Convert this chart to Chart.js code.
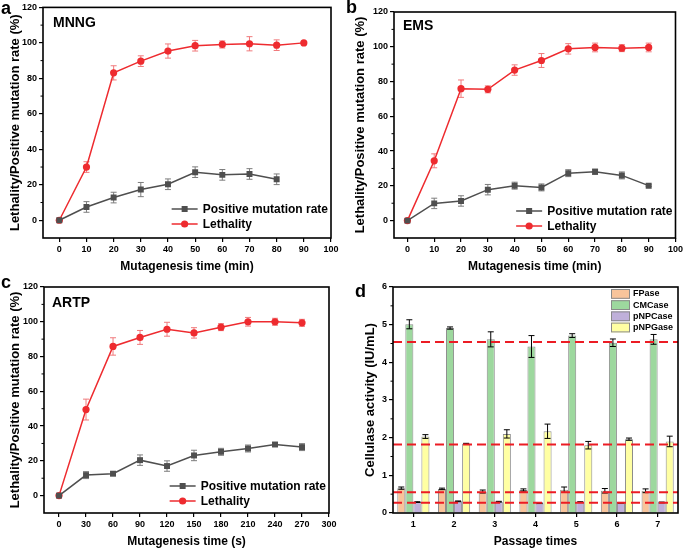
<!DOCTYPE html>
<html><head><meta charset="utf-8">
<script src="https://cdn.jsdelivr.net/npm/chart.js@4.4.1/dist/chart.umd.min.js"></script>
<style>
body{margin:0;background:#fff;width:685px;height:552px;overflow:hidden;position:relative}
canvas{position:absolute}
</style>
</head><body>
<canvas id="ca" width="345" height="275" style="left:0;top:0"></canvas>
<canvas id="cb" width="340" height="275" style="left:345px;top:0"></canvas>
<canvas id="cc" width="345" height="277" style="left:0;top:275px"></canvas>
<canvas id="cd" width="340" height="277" style="left:345px;top:275px"></canvas>
<script>
// ---------------- DATA ----------------
const timeMin = [0, 10, 20, 30, 40, 50, 60, 70, 80, 90];
const timeSec = [0, 30, 60, 90, 120, 150, 180, 210, 240, 270];
const xTicksMin = [0, 10, 20, 30, 40, 50, 60, 70, 80, 90, 100];
const xTicksSec = [0, 30, 60, 90, 120, 150, 180, 210, 240, 270, 300];
const yTicksRate = [0, 20, 40, 60, 80, 100, 120];

const mnngPositive = [0, 7.5, 12.8, 17.3, 20.3, 27.1, 25.6, 26.1, 23.1];
const mnngPositiveErr = [0, 3, 3, 4, 3, 3, 3, 3, 3];
const mnngLethality = [0, 30, 83.1, 89.7, 95.4, 98.4, 99.1, 99.5, 98.7, 100];
const mnngLethalityErr = [0, 3, 4, 3, 4, 3, 2, 4, 3, 0.5];

const emsPositive = [0, 9.9, 11.3, 17.8, 20.1, 19.1, 27.3, 28.1, 26.0, 20.1];
const emsPositiveErr = [0, 3, 3, 3, 2, 2, 2, 1.5, 2, 0.5];
const emsLethality = [0, 34.4, 75.9, 75.5, 86.6, 92.1, 98.8, 99.6, 99.2, 99.6];
const emsLethalityErr = [0, 4, 5, 2, 3, 4, 3, 2.5, 2, 2.5];

const artpPositive = [0, 11.8, 12.6, 20.4, 17.0, 23.1, 25.2, 27.1, 29.4, 27.9];
const artpPositiveErr = [0, 2, 1, 3, 3, 3, 2, 2, 1, 2];
const artpLethality = [0, 49.5, 85.8, 91.0, 95.7, 93.6, 96.9, 100, 100, 99.4];
const artpLethalityErr = [0, 6, 5, 4, 4, 3, 2, 2.5, 2, 2];

const passages = ['1', '2', '3', '4', '5', '6', '7'];
const fpase = [0.66, 0.64, 0.57, 0.61, 0.62, 0.59, 0.59];
const fpaseErr = [0.03, 0.02, 0.04, 0.03, 0.07, 0.06, 0.05];
const cmcase = [5.01, 4.91, 4.61, 4.42, 4.71, 4.52, 4.61];
const cmcaseErr = [0.12, 0.03, 0.2, 0.29, 0.05, 0.1, 0.13];
const pnpcase = [0.29, 0.31, 0.30, 0.26, 0.29, 0.27, 0.28];
const pnpcaseErr = [0.01, 0.01, 0.01, 0.01, 0.01, 0.01, 0.01];
const pnpgase = [2.03, 1.84, 2.10, 2.17, 1.80, 1.96, 1.90];
const pnpgaseErr = [0.05, 0.01, 0.11, 0.19, 0.1, 0.03, 0.14];
const referenceLevels = [4.54, 1.82, 0.55, 0.27];

// ---------------- STYLE ----------------
const FONT = '"Liberation Sans", Arial, Helvetica, sans-serif';
Chart.defaults.font.family = FONT;
Chart.defaults.color = '#000';
const RED = '#EE2B2F';
const GRAY = '#4F4F4F';

function drawErrors(chart, cap) {
  const ctx = chart.ctx;
  chart.data.datasets.forEach((ds, i) => {
    if (!ds.errors) return;
    const meta = chart.getDatasetMeta(i);
    const ys = chart.scales[meta.yAxisID];
    ctx.save();
    ctx.strokeStyle = ds.errorColor || '#000';
    ctx.lineWidth = 1;
    meta.data.forEach((el, j) => {
      const d = ds.data[j];
      const v = (typeof d === 'object') ? d.y : d;
      const e = ds.errors[j];
      if (!e) return;
      const x = el.x;
      const y1 = ys.getPixelForValue(v + e), y2 = ys.getPixelForValue(v - e);
      ctx.beginPath();
      ctx.moveTo(x, y1); ctx.lineTo(x, y2);
      ctx.moveTo(x - cap, y1); ctx.lineTo(x + cap, y1);
      ctx.moveTo(x - cap, y2); ctx.lineTo(x + cap, y2);
      ctx.stroke();
    });
    ctx.restore();
  });
}

const deco = {
  id: 'deco',
  beforeDatasetsDraw(chart, args, o) {
    if (o.errorsBehind) drawErrors(chart, o.cap || 3);
  },
  afterDatasetsDraw(chart, args, o) {
    if (!o.errorsBehind) drawErrors(chart, o.cap || 3);
    const ctx = chart.ctx, a = chart.chartArea;
    if (o.refLines) {
      const ys = chart.scales.y;
      ctx.save();
      ctx.strokeStyle = '#EC1C24';
      ctx.lineWidth = 2;
      ctx.setLineDash([9, 5]);
      o.refLines.forEach(v => {
        const y = ys.getPixelForValue(v);
        ctx.beginPath(); ctx.moveTo(a.left, y); ctx.lineTo(a.right, y); ctx.stroke();
      });
      ctx.restore();
    }
  },
  afterDraw(chart, args, o) {
    const ctx = chart.ctx, a = chart.chartArea;
    ctx.save();
    // frame
    ctx.strokeStyle = '#000';
    ctx.lineWidth = 1.6;
    ctx.strokeRect(a.left, a.top, a.right - a.left, a.bottom - a.top);
    // minor ticks on y
    if (o.minorY) {
      const ys = chart.scales.y;
      ctx.lineWidth = 1;
      o.minorY.forEach(v => {
        const y = ys.getPixelForValue(v);
        ctx.beginPath(); ctx.moveTo(a.left - 2.5, y); ctx.lineTo(a.left, y); ctx.stroke();
      });
    }
    // panel letter
    if (o.letter) {
      ctx.fillStyle = '#000';
      ctx.font = 'bold 18px ' + FONT;
      ctx.textBaseline = 'alphabetic';
      ctx.textAlign = 'left';
      ctx.fillText(o.letter.text, o.letter.x, o.letter.y);
    }
    // tag inside plot
    if (o.tag) {
      ctx.fillStyle = '#000';
      ctx.font = 'bold 14px ' + FONT;
      ctx.textBaseline = 'alphabetic';
      ctx.textAlign = 'left';
      ctx.fillText(o.tag.text, a.left + o.tag.dx, a.top + o.tag.dy);
    }
    // line legend
    if (o.lineLegend) {
      ctx.font = 'bold 12px ' + FONT;
      ctx.textBaseline = 'middle';
      ctx.textAlign = 'left';
      const w = Math.max(...chart.data.datasets.map(d => ctx.measureText(d.label).width));
      const tx = a.right - 3 - w;
      chart.data.datasets.forEach((d, i) => {
        const y = a.bottom - o.lineLegend[i];
        ctx.strokeStyle = d.borderColor; ctx.lineWidth = 1.5;
        ctx.beginPath(); ctx.moveTo(tx - 31, y); ctx.lineTo(tx - 5, y); ctx.stroke();
        const cx = tx - 18;
        ctx.fillStyle = d.backgroundColor;
        if (d.pointStyle === 'rect') { ctx.fillRect(cx - 3, y - 3, 6, 6); }
        else { ctx.beginPath(); ctx.arc(cx, y, 3.6, 0, Math.PI * 2); ctx.fill(); }
        ctx.fillStyle = '#000';
        ctx.fillText(d.label, tx, y + 0.5);
      });
    }
    // bar legend
    if (o.barLegend) {
      ctx.font = 'bold 9px ' + FONT;
      ctx.textBaseline = 'middle';
      ctx.textAlign = 'left';
      chart.data.datasets.forEach((d, i) => {
        const top = a.top + 2 + i * 11.2;
        const bx = a.right - 67;
        ctx.fillStyle = d.backgroundColor;
        ctx.fillRect(bx, top, 19, 9.8);
        ctx.strokeStyle = '#8a8a8a'; ctx.lineWidth = 1;
        ctx.strokeRect(bx + 0.5, top + 0.5, 18, 8.8);
        ctx.fillStyle = '#000';
        ctx.fillText(d.label, a.right - 45, top + 5);
      });
    }
    ctx.restore();
  }
};

const tickFont = { size: 9, weight: 'bold' };
const gridOpts = { display: true, drawOnChartArea: false, drawTicks: true, tickLength: 4, color: '#000', lineWidth: 1.2 };

function pts(xs, ys) { return ys.map((y, i) => ({ x: xs[i], y: y })); }

function lineChart(id, o) {
  return new Chart(document.getElementById(id), {
    type: 'line',
    data: {
      datasets: [
        { label: 'Positive mutation rate', data: pts(o.x, o.pos), errors: o.posErr, errorColor: '#7d7d7d',
          borderColor: GRAY, backgroundColor: GRAY, pointStyle: 'rect', pointRadius: 4.2,
          pointBorderColor: GRAY, pointBackgroundColor: GRAY, pointBorderWidth: 0, borderWidth: 1.5, tension: 0 },
        { label: 'Lethality', data: pts(o.x, o.let), errors: o.letErr, errorColor: '#F07A7C',
          borderColor: RED, backgroundColor: RED, pointStyle: 'circle', pointRadius: 3.6,
          pointBorderColor: RED, pointBackgroundColor: RED, pointBorderWidth: 0, borderWidth: 1.5, tension: 0 }
      ]
    },
    options: {
      responsive: false, animation: false, events: [],
      layout: { padding: o.pad },
      scales: {
        x: {
          type: 'linear', min: o.xmin, max: o.xmax,
          afterFit: s => { s.height = o.xh; },
          afterBuildTicks: s => { s.ticks = o.xticks.map(v => ({ value: v })); },
          grid: gridOpts, border: { display: false },
          ticks: { font: tickFont, color: '#000', padding: 2, maxRotation: 0, autoSkip: false },
          title: { display: true, text: o.xtitle, color: '#000', font: { size: 12, weight: 'bold' }, padding: { top: 0, bottom: o.xtpad } }
        },
        y: {
          min: -10, max: 120,
          afterFit: s => { s.width = o.yw; },
          afterBuildTicks: s => { s.ticks = yTicksRate.map(v => ({ value: v })); },
          grid: gridOpts, border: { display: false },
          ticks: { font: tickFont, color: '#000', padding: 2 },
          title: { display: true, text: 'Lethality/Positive mutation rate (%)', color: '#000', font: { size: 13, weight: 'bold' }, padding: { top: 7.5, bottom: 0 } }
        }
      },
      plugins: {
        legend: { display: false }, tooltip: { enabled: false },
        deco: { errorsBehind: true, cap: 3, minorY: [10, 30, 50, 70, 90, 110], letter: o.letter, tag: o.tag, lineLegend: o.legendRows }
      }
    },
    plugins: [deco]
  });
}

lineChart('ca', {
  x: timeMin, pos: mnngPositive, posErr: mnngPositiveErr, let: mnngLethality, letErr: mnngLethalityErr,
  xmin: -6, xmax: 100, xticks: xTicksMin, xtitle: 'Mutagenesis time (min)',
  pad: { left: 0, top: 7, right: 14, bottom: 0 }, yw: 43, xh: 37, xtpad: 1,
  letter: { text: 'a', x: 1, y: 14 }, tag: { text: 'MNNG', dx: 10, dy: 20 }, legendRows: [29, 14]
});
lineChart('cb', {
  x: timeMin, pos: emsPositive, posErr: emsPositiveErr, let: emsLethality, letErr: emsLethalityErr,
  xmin: -5, xmax: 100, xticks: xTicksMin, xtitle: 'Mutagenesis time (min)',
  pad: { left: 0, top: 12, right: 7, bottom: 0 }, yw: 49, xh: 37, xtpad: 1,
  letter: { text: 'b', x: 1, y: 13 }, tag: { text: 'EMS', dx: 9, dy: 18 }, legendRows: [27, 12]
});
lineChart('cc', {
  x: timeSec, pos: artpPositive, posErr: artpPositiveErr, let: artpLethality, letErr: artpLethalityErr,
  xmin: -16.7, xmax: 300, xticks: xTicksSec, xtitle: 'Mutagenesis time (s)',
  pad: { left: 0, top: 12, right: 16, bottom: 0 }, yw: 44, xh: 39, xtpad: 3,
  letter: { text: 'c', x: 1, y: 13 }, tag: { text: 'ARTP', dx: 8, dy: 20 }, legendRows: [27, 12]
});

const barColors = ['#F8C49B', '#9DD89E', '#BFB0DA', '#FFFFA3'];
new Chart(document.getElementById('cd'), {
  type: 'bar',
  data: {
    labels: passages,
    datasets: [
      { label: 'FPase', data: fpase, errors: fpaseErr, backgroundColor: barColors[0] },
      { label: 'CMCase', data: cmcase, errors: cmcaseErr, backgroundColor: barColors[1] },
      { label: 'pNPCase', data: pnpcase, errors: pnpcaseErr, backgroundColor: barColors[2] },
      { label: 'pNPGase', data: pnpgase, errors: pnpgaseErr, backgroundColor: barColors[3] }
    ]
  },
  options: {
    responsive: false, animation: false, events: [],
    layout: { padding: { left: 0, top: 12, right: 7, bottom: 0 } },
    datasets: { bar: { categoryPercentage: 0.79, barPercentage: 1, borderColor: '#8c8c8c', borderWidth: 1 } },
    scales: {
      x: {
        afterFit: s => { s.height = 39; },
        grid: Object.assign({}, gridOpts, { offset: false }), border: { display: false },
        ticks: { font: tickFont, color: '#000', padding: 2, maxRotation: 0 },
        title: { display: true, text: 'Passage times', color: '#000', font: { size: 12, weight: 'bold' }, padding: { top: 0, bottom: 3 } }
      },
      y: {
        min: 0, max: 6,
        afterFit: s => { s.width = 48; },
        afterBuildTicks: s => { s.ticks = [0, 1, 2, 3, 4, 5, 6].map(v => ({ value: v })); },
        grid: gridOpts, border: { display: false },
        ticks: { font: tickFont, color: '#000', padding: 2 },
        title: { display: true, text: 'Cellulase activity (IU/mL)', color: '#000', font: { size: 13, weight: 'bold' }, padding: { top: 18, bottom: 0 } }
      }
    },
    plugins: {
      legend: { display: false }, tooltip: { enabled: false },
      deco: { errorsBehind: false, cap: 3, minorY: [0.5, 1.5, 2.5, 3.5, 4.5, 5.5], refLines: referenceLevels,
              letter: { text: 'd', x: 10, y: 22 }, barLegend: true }
    }
  },
  plugins: [deco]
});
</script>
</body></html>
